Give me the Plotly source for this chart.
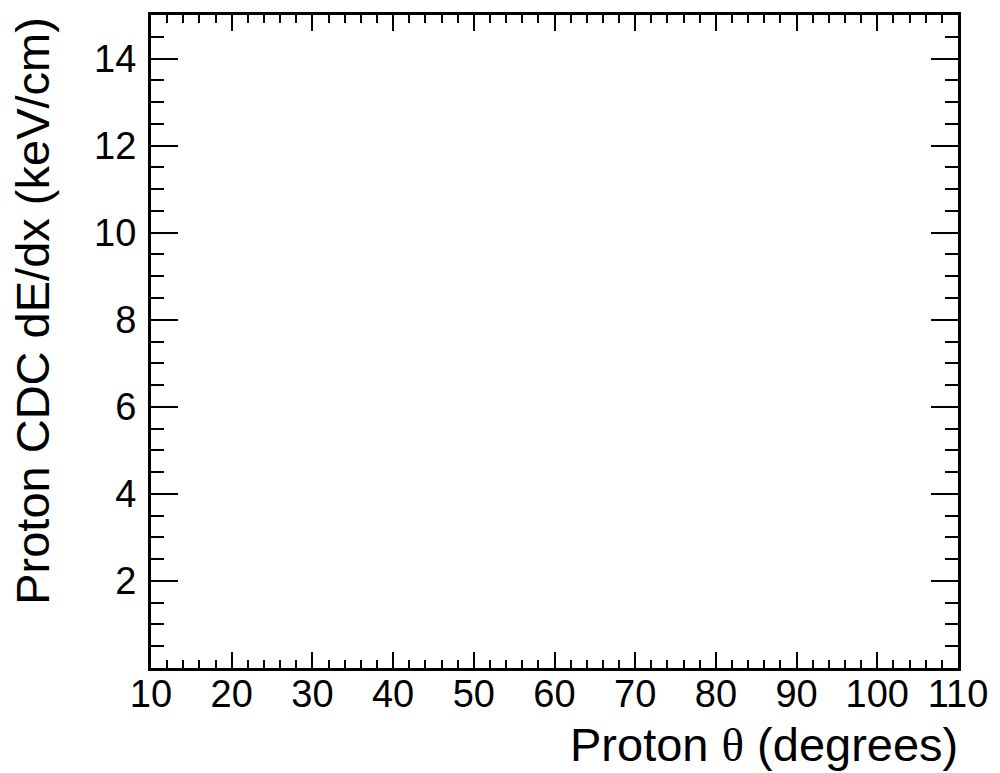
import plotly.graph_objects as go

# Axis definitions (empty histogram frame)
x_range = [10, 110]
y_range = [0, 15]
x_tick_vals = [10, 20, 30, 40, 50, 60, 70, 80, 90, 100, 110]
x_tick_text = ["10", "20", "30", "40", "50", "60", "70", "80", "90", "100", "110"]
y_tick_vals = [2, 4, 6, 8, 10, 12, 14]
y_tick_text = ["2", "4", "6", "8", "10", "12", "14"]
x_title = "Proton <span style='font-family:\"Liberation Serif\", serif'>θ</span> (degrees)"
y_title = "Proton CDC dE/dx (keV/cm)"

FONT = "Liberation Sans, Arial, Helvetica, sans-serif"
FS = 38
TFS = 47

fig = go.Figure()
fig.add_trace(go.Scatter(x=[], y=[], mode="markers", showlegend=False))

fig.update_layout(
    width=1000, height=773,
    margin=dict(l=151, r=37, t=13, b=105),
    paper_bgcolor="white", plot_bgcolor="white",
    font=dict(family=FONT, size=FS, color="black"),
    showlegend=False,
)
fig.update_xaxes(
    range=x_range, showgrid=False, zeroline=False,
    showline=True, linecolor="black", linewidth=3, mirror="allticks",
    ticks="inside", ticklen=16, tickwidth=2, tickcolor="black",
    tickvals=x_tick_vals, ticktext=x_tick_text,
    tickfont=dict(family=FONT, size=FS, color="black"),
    ticklabelstandoff=-10,
    minor=dict(ticks="inside", ticklen=8, tickwidth=2, tickcolor="black", dtick=2, showgrid=False),
)
fig.update_yaxes(
    range=y_range, showgrid=False, zeroline=False,
    showline=True, linecolor="black", linewidth=3, mirror="allticks",
    ticks="inside", ticklen=27, tickwidth=2, tickcolor="black",
    tickvals=y_tick_vals, ticktext=y_tick_text,
    tickfont=dict(family=FONT, size=FS, color="black"),
    ticklabelstandoff=4,
    minor=dict(ticks="inside", ticklen=13, tickwidth=2, tickcolor="black", dtick=0.5, showgrid=False),
)
fig.add_annotation(
    text=x_title, xref="paper", yref="paper", x=1.003, y=-0.074,
    xanchor="right", yanchor="top", showarrow=False,
    font=dict(family=FONT, size=TFS, color="black"),
)
fig.add_annotation(
    text=y_title, xref="paper", yref="paper", x=-0.183, y=1.0,
    xanchor="left", yanchor="top", textangle=-90, showarrow=False,
    font=dict(family=FONT, size=TFS, color="black"),
)
fig.write_html("out.html")
